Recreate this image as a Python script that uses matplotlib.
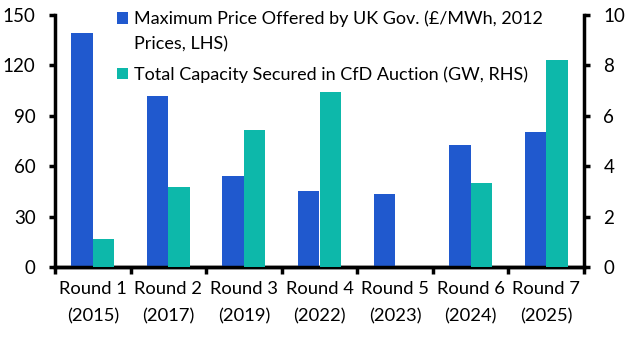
import matplotlib.pyplot as plt
import numpy as np

plt.rcParams['font.family'] = ['Lato', 'DejaVu Sans']

rounds = ['Round 1\n(2015)', 'Round 2\n(2017)', 'Round 3\n(2019)', 'Round 4\n(2022)',
          'Round 5\n(2023)', 'Round 6\n(2024)', 'Round 7\n(2025)']
max_price = [139.5, 101.7, 54, 45, 43.5, 72.5, 80.3]
capacity = [1.1, 3.17, 5.43, 6.94, 0, 3.32, 8.21]

blue = '#2059CE'
teal = '#0DB8AA'
fs = 13.5

fig = plt.figure(figsize=(6.29, 3.5), dpi=100)
ax = fig.add_axes([55 / 629, 1 - 267 / 350, 529 / 629, 252 / 350])
ax2 = ax.twinx()

x = np.arange(len(rounds))
w = 0.285
b1 = ax.bar(x - w / 2, max_price, w, color=blue, zorder=3)
b2 = ax2.bar(x + w / 2, capacity, w, color=teal, zorder=3)

ax.set_xlim(-0.5, len(rounds) - 0.5)
ax.set_ylim(0, 150)
ax.set_yticks([0, 30, 60, 90, 120, 150])
ax2.set_ylim(0, 10)
ax2.set_yticks([0, 2, 4, 6, 8, 10])

ax.set_xticks(np.arange(-0.5, len(rounds), 1))
ax.set_xticklabels([])
ax.set_xticks(x, minor=True)
ax.set_xticklabels(rounds, minor=True, fontsize=13.2, linespacing=1.9)
ax.tick_params(axis='x', which='minor', length=0, pad=10)
ax.tick_params(axis='x', which='major', length=5, width=2.5, direction='out')
ax.tick_params(axis='y', length=4, width=2.5, direction='out', labelsize=fs, pad=10)
ax2.tick_params(axis='y', length=4, width=2.5, direction='out', labelsize=fs, pad=10)

for a in (ax, ax2):
    a.spines['top'].set_visible(False)
    for s in ('left', 'right', 'bottom'):
        a.spines[s].set_linewidth(2.5)
ax.spines['right'].set_visible(False)
ax2.spines['left'].set_visible(False)

# second line of the first label is added below so the square lines up with line one
leg = ax2.legend([b1, b2],
                 ['Maximum Price Offered by UK Gov. (£/MWh, 2012',
                  'Total Capacity Secured in CfD Auction (GW, RHS)'],
                 loc='upper left', bbox_to_anchor=(0.117, 1.017), frameon=False,
                 fontsize=13, handlelength=0.6, handleheight=0.6, handletextpad=0.35,
                 labelspacing=2.17, borderpad=0, borderaxespad=0)
fig.canvas.draw()
ax2.annotate('Prices, LHS)', xy=(0, 0), xycoords=leg.get_texts()[0],
             xytext=(0, -25), textcoords='offset pixels', ha='left', va='bottom',
             fontsize=13, zorder=10)

fig.savefig('out.png', dpi=100)
